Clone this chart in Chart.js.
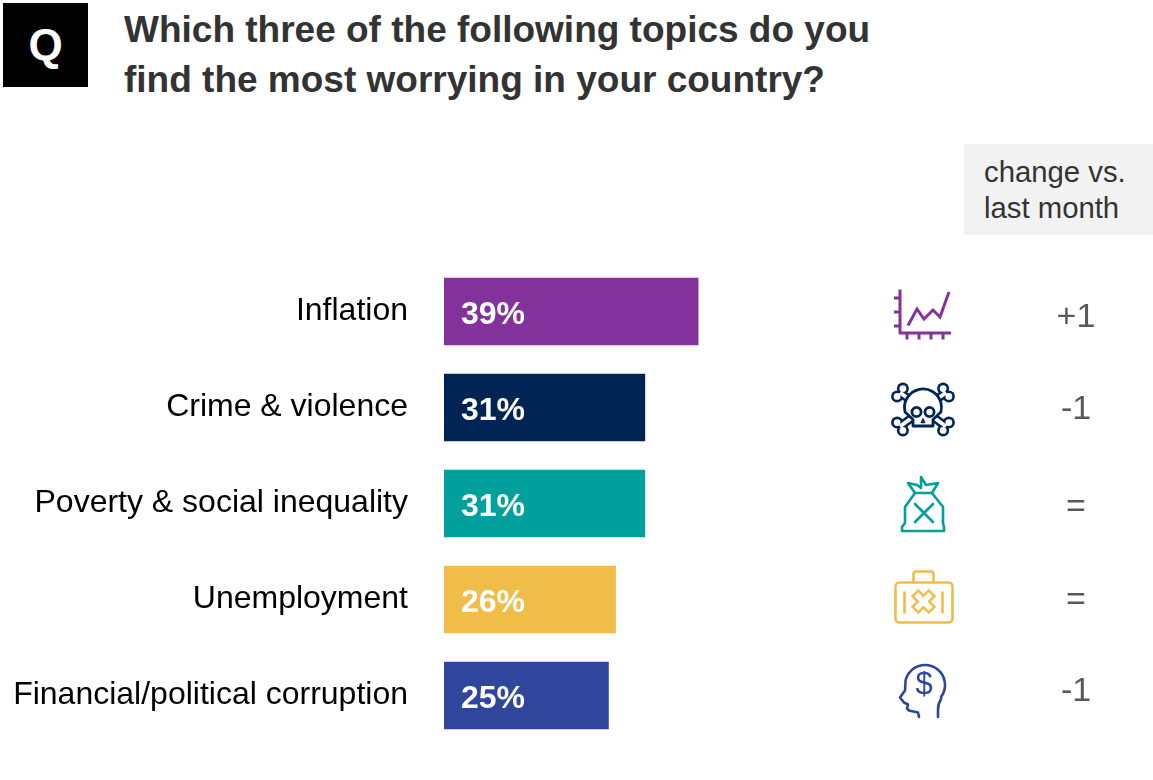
<!DOCTYPE html>
<html><head><meta charset="utf-8">
<script src="https://cdn.jsdelivr.net/npm/chart.js@4"></script>
<style>
html,body{margin:0;padding:0;background:#fff;width:1153px;height:780px;overflow:hidden;font-family:"Liberation Sans",Arial,sans-serif}
#q{position:absolute;left:3px;top:3px;width:85px;height:84px;background:#000;color:#fff;font-weight:700;font-size:44px;line-height:84px;text-align:center}
#t{position:absolute;left:124px;top:5px;font-size:37px;font-weight:700;line-height:50px;color:#333;white-space:nowrap}
#c{position:absolute;left:964px;top:144px;width:189px;height:91px;background:#f2f2f2;color:#333;font-size:29.3px;line-height:35.5px;padding:10px 0 0 20px;box-sizing:border-box;white-space:nowrap}
#w{position:absolute;left:0;top:250px;width:1153px;height:500px}
</style></head><body>
<div id="q">Q</div>
<div id="t">Which three of the following topics do you<br>find the most worrying in your country?</div>
<div id="c">change vs.<br>last month</div>
<div id="w"><canvas id="cv"></canvas></div>
<script>
const categories=["Inflation","Crime & violence","Poverty & social inequality","Unemployment","Financial/political corruption"];
const barLengths=[39.1,30.9,30.9,26.4,25.3];
const valueLabels=["39%","31%","31%","26%","25%"];
const changeLabels=["+1","-1","=","=","-1"];
const barColors=["#84329b","#002554","#00a09d","#f0be48","#30459c"];

function icon(ctx,kind,cx,cy,col){
  ctx.save();ctx.translate(cx,cy);ctx.strokeStyle=col;ctx.fillStyle=col;ctx.lineWidth=2.6;ctx.lineCap="round";ctx.lineJoin="round";
  const P=(a,close)=>{ctx.beginPath();a.forEach((p,i)=>i?ctx.lineTo(p[0],p[1]):ctx.moveTo(p[0],p[1]));if(close)ctx.closePath();ctx.stroke();};
  const C=(x,y,r)=>{ctx.beginPath();ctx.arc(x,y,r,0,Math.PI*2);ctx.stroke();};
  if(kind===0){
    ctx.lineWidth=3;ctx.lineCap="butt";
    P([[-23,-22],[-23,21.5],[28,21.5]]);
    [-13.5,0.5,14.5].forEach(y=>P([[-29,y],[-23,y]]));
    [-16,-4,8,20].forEach(x=>P([[x,21.5],[x,28]]));
    ctx.lineJoin="miter";
    P([[-15,14],[-6,-2.5],[1,7.5],[10,-1.5],[17,5.5],[26,-19.5]]);
  }else if(kind===1){
    const drawBone=(dx,dy,lw,r,c)=>{
      const nx=-dy*0.17,ny=dx*0.17;
      ctx.strokeStyle=c;ctx.fillStyle=c;ctx.lineWidth=lw;ctx.lineCap="butt";
      ctx.beginPath();ctx.moveTo(-dx,-dy);ctx.lineTo(dx,dy);ctx.stroke();
      [[dx,dy],[-dx,-dy]].forEach(([x,y])=>{
        [[x+nx,y+ny],[x-nx,y-ny]].forEach(([a,b])=>{ctx.beginPath();ctx.arc(a,b,r,0,Math.PI*2);ctx.fill();});
      });
    };
    drawBone(23,17,9,6,col);drawBone(23,-17,9,6,col);
    drawBone(23,17,4,3.4,"#fff");drawBone(23,-17,4,3.4,"#fff");
    ctx.strokeStyle=col;ctx.fillStyle="#fff";ctx.lineWidth=2.8;ctx.lineCap="round";
    ctx.beginPath();ctx.arc(0,-2,18.5,Math.PI*0.92,Math.PI*0.08);ctx.lineTo(10,10);ctx.lineTo(10,16.5);ctx.lineTo(-10,16.5);ctx.lineTo(-10,10);ctx.closePath();ctx.fill();ctx.stroke();
    C(-6.5,2.5,4.6);C(6.5,2.5,4.6);
    ctx.lineWidth=1.6;P([[0,9.5],[-1.6,13],[1.6,13]],true);
  }else if(kind===2){
    P([[-9,-11],[-19,3],[-19,19],[-22,23],[-22,27],[20,27],[20,23],[19,19],[19,3],[8,-11]]);
    P([[-9,-11],[8,-11]]);
    P([[-9,-11],[-16,-21],[-7,-19]]);
    P([[-7,-19],[-3,-16],[-3,-27],[2,-19],[14,-21],[8,-11]]);
    P([[-9,0],[9,18]]);P([[9,0],[-9,18]]);
  }else if(kind===3){
    ctx.beginPath();ctx.roundRect(-28,-17,57,40,4);ctx.stroke();
    ctx.beginPath();ctx.moveTo(-10,-17);ctx.lineTo(-10,-25);ctx.quadraticCurveTo(-10,-28,-7,-28);ctx.lineTo(7,-28);ctx.quadraticCurveTo(10,-28,10,-25);ctx.lineTo(10,-17);ctx.stroke();
    P([[-19,-7],[-19,13]]);P([[19,-7],[19,13]]);
    const cross=(lw,c,e)=>{ctx.strokeStyle=c;ctx.lineWidth=lw;ctx.lineCap="butt";
      P([[-e,2-e],[e,2+e]]);P([[e,2-e],[-e,2+e]]);};
    cross(10.5,col,9);cross(5.5,"#fff",7.2);
  }else{
    ctx.beginPath();ctx.moveTo(15,21.5);ctx.lineTo(15,14);ctx.quadraticCurveTo(15,8,18,4);
    ctx.arc(2,-10.5,20,Math.PI*0.2,Math.PI*1.08,true);
    ctx.lineTo(-18,-5);ctx.lineTo(-23,2);ctx.lineTo(-19,7);ctx.lineTo(-15,9);ctx.lineTo(-16,13);ctx.lineTo(-14,15);ctx.lineTo(-5,17);ctx.lineTo(-4,21.5);ctx.stroke();
    ctx.font="400 31px 'Liberation Sans'";ctx.textAlign="center";ctx.textBaseline="middle";ctx.fillText("$",1,-10);
  }
  ctx.restore();
}
const iconX=[923,923,924,923.5,923];
const iconDy=[0,2,0.5,0,0];
const changeDy=[6,2,4,1,-4];
const overlay={id:"overlay",afterDatasetsDraw(ch){
  const {ctx}=ch;const m=ch.getDatasetMeta(0);
  m.data.forEach((b,i)=>{
    const y=b.y;
    ctx.save();
    ctx.fillStyle="#fff";ctx.font="700 32px 'Liberation Sans'";ctx.textBaseline="middle";ctx.textAlign="left";
    ctx.fillText(valueLabels[i],ch.scales.x.left+17,y+4);
    ctx.fillStyle="#595959";ctx.font="34px 'Liberation Sans'";ctx.textAlign="center";
    ctx.fillText(changeLabels[i],1076,y+changeDy[i]);
    ctx.restore();
    icon(ctx,i,iconX[i],y+iconDy[i],barColors[i]);
  });
}};
new Chart(document.getElementById("cv"),{
  type:"bar",
  data:{labels:categories,datasets:[{data:barLengths,backgroundColor:barColors,barThickness:67,borderWidth:0}]},
  options:{indexAxis:"y",responsive:true,maintainAspectRatio:false,animation:false,
    layout:{padding:{left:0,right:0,top:13.5,bottom:6.5}},
    plugins:{legend:{display:false},tooltip:{enabled:false}},
    scales:{
      x:{min:0,max:109.08,display:false},
      y:{afterFit(s){s.width=444;s.paddingTop=0;s.paddingBottom=0;},grid:{display:false},border:{display:false},
        ticks:{color:"#000",padding:28,font:{size:32,family:"'Liberation Sans'",lineHeight:"1px"},
          callback(v){return [this.getLabelForValue(v),""];}}}
    }},
  plugins:[overlay]
});
</script>
</body></html>
